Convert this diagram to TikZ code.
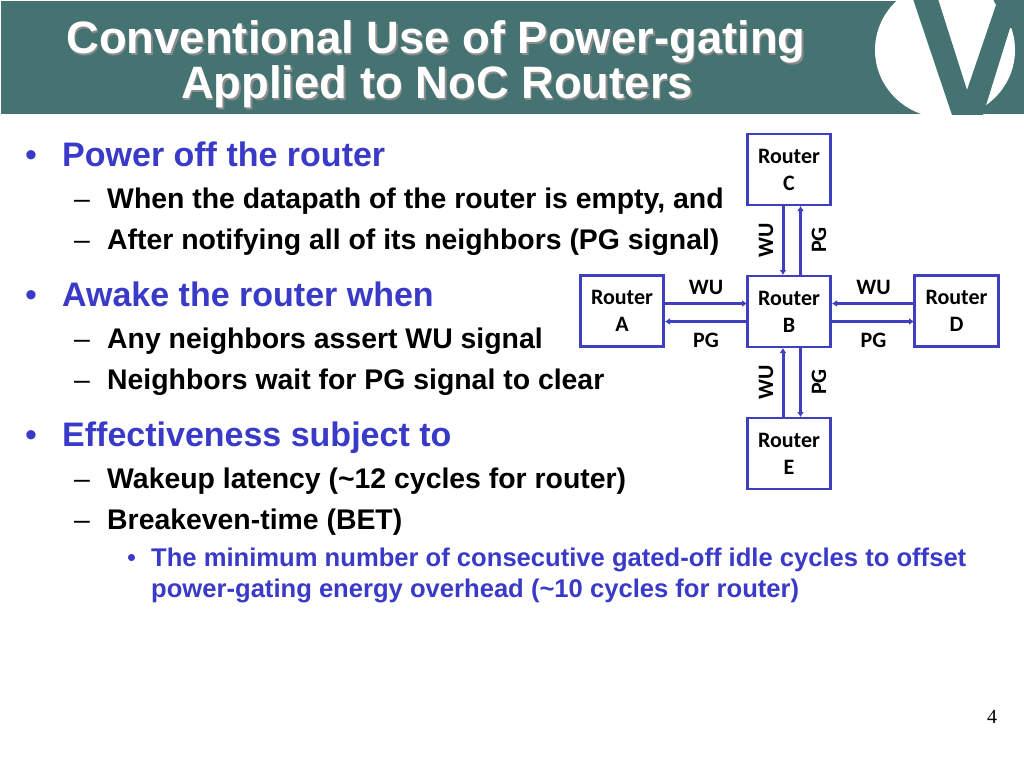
\documentclass[tikz,border=0pt]{standalone}
\usepackage{fontspec}
\setmainfont{Liberation Sans}
\newfontfamily\carl{Carlito}
\newfontfamily\serifnum{Liberation Serif}
\definecolor{teal1}{HTML}{457372}
\definecolor{bluetxt}{HTML}{3A3AC8}
\definecolor{boxblue}{HTML}{3F3FBF}
\usetikzlibrary{arrows.meta}
\newcommand{\firstline}{\rule{0pt}{18.5pt}}
\tikzset{
 rbox/.style={draw=boxblue,line width=2.8pt,minimum width=83.5pt,minimum height=71pt,inner sep=0pt,align=center,font=\carl\bfseries\fontsize{22}{27}\selectfont,fill=white,execute at begin node=\firstline},
 conn/.style={draw=boxblue,line width=3pt,-{Latex[length=5pt,width=7pt]}},
 sig/.style={font=\carl\bfseries\fontsize{22}{24}\selectfont,inner sep=0pt},
 ttl/.style={font=\bfseries\fontsize{45.4}{50}\selectfont,inner sep=0pt,anchor=base},
 l1/.style={font=\bfseries\fontsize{34}{40}\selectfont,text=bluetxt,inner sep=0pt,anchor=base west},
 l2/.style={font=\bfseries\fontsize{28.4}{34}\selectfont,text=black,inner sep=0pt,anchor=base west},
 l3/.style={font=\bfseries\fontsize{25.6}{30}\selectfont,text=bluetxt,inner sep=0pt,anchor=base west},
 dsh/.style={font=\mdseries\fontsize{28.4}{34}\selectfont,text=black,inner sep=0pt,anchor=base west},
 blt/.style={font=\mdseries\fontsize{34}{40}\selectfont,text=bluetxt,inner sep=0pt,anchor=base west},
}
\begin{document}
\begin{tikzpicture}[x=1pt,y=-1pt]
\useasboundingbox (0,0) rectangle (1024,768);
\fill[white] (0,0) rectangle (1024,768);
\fill[teal1] (1,1) rectangle (1024,114);
\begin{scope}
\clip (1,1) rectangle (1024,114);
\fill[white] (945,50) ellipse[x radius=70,y radius=68];
\fill[teal1] (913,-1) -- (938,-1) -- (967,90) -- (996,5) -- (993,-1) -- (1030,-1) -- (1030,28) -- (1010,28) -- (983,115) -- (952,115) -- cycle;
\end{scope}
\node[ttl,text=black!45] (t1s) at (437.5,55.5) {Conventional Use of Power-gating};
\node[ttl,text=white] (t1) at (436,53.5) {Conventional Use of Power-gating};
\node[ttl,text=black!45] (t2s) at (438.5,100) {Applied to NoC Routers};
\node[ttl,text=white] (t2) at (437,98) {Applied to NoC Routers};

\node[blt] (b1) at (25,166) {•};
\node[l1] (a1) at (62,166.5) {Power off the router};
\node[dsh] (d1) at (74,208) {–};
\node[l2] (a2) at (107,208) {When the datapath of the router is empty, and};
\node[dsh] (d2) at (74,249) {–};
\node[l2] (a3) at (107,249) {After notifying all of its neighbors (PG signal)};
\node[blt] (b2) at (25,306) {•};
\node[l1] (a4) at (62,306.5) {Awake the router when};
\node[dsh] (d3) at (74,348) {–};
\node[l2] (a5) at (107,348) {Any neighbors assert WU signal};
\node[dsh] (d4) at (74,389) {–};
\node[l2] (a6) at (107,389) {Neighbors wait for PG signal to clear};
\node[blt] (b3) at (25,446) {•};
\node[l1] (a7) at (62,446) {Effectiveness subject to};
\node[dsh] (d5) at (74,488) {–};
\node[l2] (a8) at (107,488) {Wakeup latency (\char`\~12 cycles for router)};
\node[dsh] (d6) at (74,529) {–};
\node[l2] (a9) at (107,529) {Breakeven-time (BET)};
\node[l3,font=\mdseries\fontsize{25.6}{30}\selectfont] (b4) at (127,566) {•};
\node[l3] (a10) at (151,566) {The minimum number of consecutive gated-off idle cycles to offset};
\node[l3] (a11) at (151,597) {power-gating energy overhead (\char`\~10 cycles for router)};
\node[font=\serifnum\fontsize{20}{22}\selectfont,inner sep=0pt,anchor=base] (pn) at (992,723) {4};

\node[rbox] (C) at (789,169.5) {Router\\C};
\node[rbox] (A) at (622,311) {Router\\A};
\node[rbox] (B) at (789,311.5) {Router\\B};
\node[rbox] (D) at (956.5,311) {Router\\D};
\node[rbox] (E) at (789,453.5) {Router\\E};

\coordinate (cw) at (783,206); \coordinate (bwt) at (783,275);
\coordinate (cp) at (800.5,206); \coordinate (bpt) at (800.5,275);
\coordinate (bwb) at (783,348); \coordinate (ew) at (783,418);
\coordinate (bpb) at (800.5,348); \coordinate (ep) at (800.5,417);
\coordinate (aw) at (665,303.5); \coordinate (blw) at (747,303.5);
\coordinate (ap) at (665,321.5); \coordinate (blp) at (747,321.5);
\coordinate (dw) at (914,303.5); \coordinate (brw) at (832,303.5);
\coordinate (dp) at (914,321.5); \coordinate (brp) at (832,321.5);
\draw[conn] (cw) -- (bwt);
\draw[conn] (bpt) -- (cp);
\draw[conn] (ew) -- (bwb);
\draw[conn] (bpb) -- (ep);
\draw[conn] (aw) -- (blw);
\draw[conn] (blp) -- (ap);
\draw[conn] (dw) -- (brw);
\draw[conn] (brp) -- (dp);

\node[sig] (w1) at (706,287) {WU};
\node[sig] (p1) at (706,340) {PG};
\node[sig] (w2) at (873.5,287) {WU};
\node[sig] (p2) at (873.5,340) {PG};
\node[sig,rotate=90] (w3) at (766,240) {WU};
\node[sig,rotate=90] (p3) at (819,240) {PG};
\node[sig,rotate=90] (w4) at (766,382) {WU};
\node[sig,rotate=90] (p4) at (819,382) {PG};
\end{tikzpicture}
\end{document}
